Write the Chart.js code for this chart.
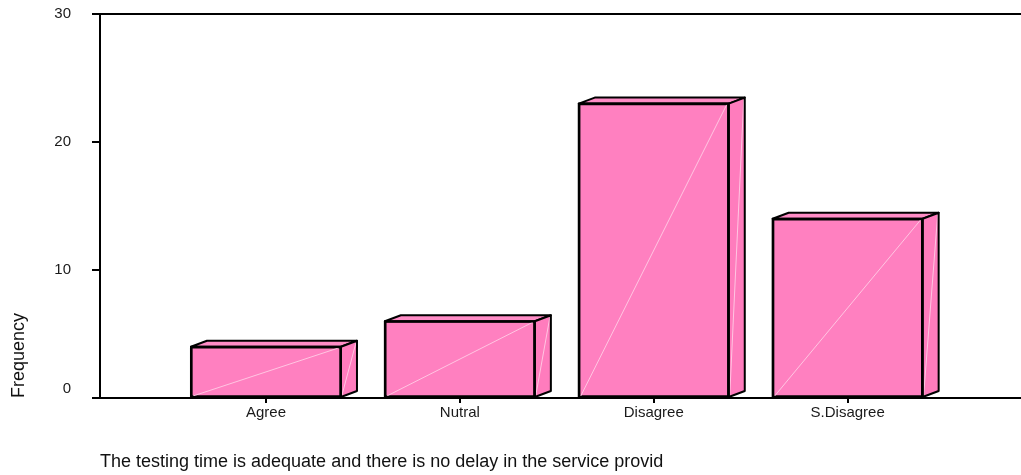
<!DOCTYPE html>
<html>
<head>
<meta charset="utf-8">
<script src="https://cdn.jsdelivr.net/npm/chart.js@4.4.1/dist/chart.umd.min.js"></script>
<style>
  html, body { margin: 0; padding: 0; background: #ffffff; }
  #wrap { width: 1021px; height: 475px; }
</style>
</head>
<body>
<div id="wrap"><canvas id="c" width="1021" height="475"></canvas></div>
<script>
// Responses per answer category
const categories = ['Agree', 'Nutral', 'Disagree', 'S.Disagree'];
const frequencies = [4, 6, 23, 14];
const yTicks = [0, 10, 20, 30];
const xTitle = 'The testing time is adequate and there is no delay in the service provid';
const yTitle = 'Frequency';

const FONT = '"Liberation Sans", Arial, Helvetica, sans-serif';
const FRONT = '#ff80c0';
const TOP = '#ff8cc6';
const SIDE = '#ff7cbd';
const EDGE = '#000000';
const GLINT = 'rgba(255, 205, 230, 0.9)';
const DEPTH_X = 16, DEPTH_Y = 6;

// Adds the top and side faces to every bar so they read as boxes
const boxFaces = {
  id: 'boxFaces',
  afterDatasetsDraw(chart) {
    const ctx = chart.ctx;
    chart.getDatasetMeta(0).data.forEach(bar => {
      const { x, y, base, width } = bar.getProps(['x', 'y', 'base', 'width'], true);
      const x0 = x - width / 2, x1 = x + width / 2;
      ctx.save();
      ctx.lineJoin = 'round';
      // glint across the front face
      ctx.strokeStyle = GLINT;
      ctx.lineWidth = 1;
      ctx.beginPath();
      ctx.moveTo(x0 + 2, base - 1);
      ctx.lineTo(x1 - 2, y + 1);
      ctx.stroke();
      // top face
      ctx.fillStyle = TOP;
      ctx.strokeStyle = EDGE;
      ctx.lineWidth = 2;
      ctx.beginPath();
      ctx.moveTo(x0, y);
      ctx.lineTo(x0 + DEPTH_X, y - DEPTH_Y);
      ctx.lineTo(x1 + DEPTH_X, y - DEPTH_Y);
      ctx.lineTo(x1, y);
      ctx.closePath();
      ctx.fill();
      ctx.stroke();
      // side face
      ctx.fillStyle = SIDE;
      ctx.beginPath();
      ctx.moveTo(x1, y);
      ctx.lineTo(x1 + DEPTH_X, y - DEPTH_Y);
      ctx.lineTo(x1 + DEPTH_X, base - DEPTH_Y);
      ctx.lineTo(x1, base);
      ctx.closePath();
      ctx.fill();
      ctx.strokeStyle = GLINT;
      ctx.lineWidth = 1;
      ctx.beginPath();
      ctx.moveTo(x1 + 1, base - 2);
      ctx.lineTo(x1 + DEPTH_X - 1, y - DEPTH_Y + 2);
      ctx.stroke();
      ctx.strokeStyle = EDGE;
      ctx.lineWidth = 2;
      ctx.beginPath();
      ctx.moveTo(x1, y);
      ctx.lineTo(x1 + DEPTH_X, y - DEPTH_Y);
      ctx.lineTo(x1 + DEPTH_X, base - DEPTH_Y);
      ctx.lineTo(x1, base);
      ctx.closePath();
      ctx.stroke();
      // front outline redrawn on top of the glint
      ctx.strokeRect(x0, y, width, base - y);
      ctx.restore();
    });
  }
};

// Top frame line and the raised zero label
const frame = {
  id: 'frame',
  afterDraw(chart) {
    const { ctx, chartArea } = chart;
    const yScale = chart.scales.y;
    ctx.save();
    ctx.strokeStyle = EDGE;
    ctx.lineWidth = 2;
    ctx.beginPath();
    ctx.moveTo(chartArea.left - 8, chartArea.top);
    ctx.lineTo(chartArea.right, chartArea.top);
    ctx.stroke();
    ctx.fillStyle = '#1a1a1a';
    ctx.font = '15px ' + FONT;
    ctx.textAlign = 'right';
    ctx.textBaseline = 'middle';
    ctx.fillText(String(yTicks[0]), chartArea.left - 29, yScale.getPixelForValue(yTicks[0]) - 9);
    ctx.restore();
  }
};

new Chart(document.getElementById('c'), {
  type: 'bar',
  data: {
    datasets: [{
      data: categories.map((c, i) => ({ x: i, y: frequencies[i] })),
      backgroundColor: FRONT,
      borderColor: EDGE,
      borderWidth: 2,
      borderSkipped: false,
      barThickness: 150
    }]
  },
  plugins: [boxFaces, frame],
  options: {
    responsive: false,
    animation: false,
    layout: { padding: { top: 14, right: 0, bottom: 0, left: 0 } },
    plugins: { legend: { display: false }, tooltip: { enabled: false } },
    scales: {
      x: {
        type: 'linear',
        min: -0.856,
        max: 3.894,
        offset: false,
        afterFit(scale) {
          scale.height = 77;
          scale.paddingLeft = 0;
          scale.paddingRight = 0;
        },
        afterBuildTicks(scale) { scale.ticks = categories.map((c, i) => ({ value: i })); },
        ticks: {
          callback: v => categories[v],
          font: { family: FONT, size: 15 },
          color: '#1a1a1a',
          padding: 1,
          maxRotation: 0,
          autoSkip: false
        },
        grid: { offset: false, drawOnChartArea: false, tickLength: 5, color: EDGE, lineWidth: 2 },
        border: { color: EDGE, width: 2 },
        title: {
          display: true,
          text: xTitle,
          align: 'start',
          color: '#111111',
          font: { family: FONT, size: 18 },
          padding: { top: 0, bottom: 2 }
        }
      },
      y: {
        min: 0,
        max: 30,
        afterFit(scale) {
          scale.width = 100;
          scale.paddingTop = 0;
          scale.paddingBottom = 0;
        },
        afterBuildTicks(scale) { scale.ticks = yTicks.map(v => ({ value: v })); },
        ticks: {
          font: { family: FONT, size: 15 },
          color: ctx => ctx.tick && ctx.tick.value === 0 ? 'rgba(0,0,0,0)' : '#1a1a1a',
          padding: 21
        },
        grid: { drawOnChartArea: false, tickLength: 8, color: EDGE, lineWidth: 2 },
        border: { color: EDGE, width: 2 },
        title: {
          display: true,
          text: yTitle,
          align: 'start',
          color: '#111111',
          font: { family: FONT, size: 18 },
          padding: { top: 8, bottom: 0 }
        }
      }
    }
  }
});
</script>
</body>
</html>
